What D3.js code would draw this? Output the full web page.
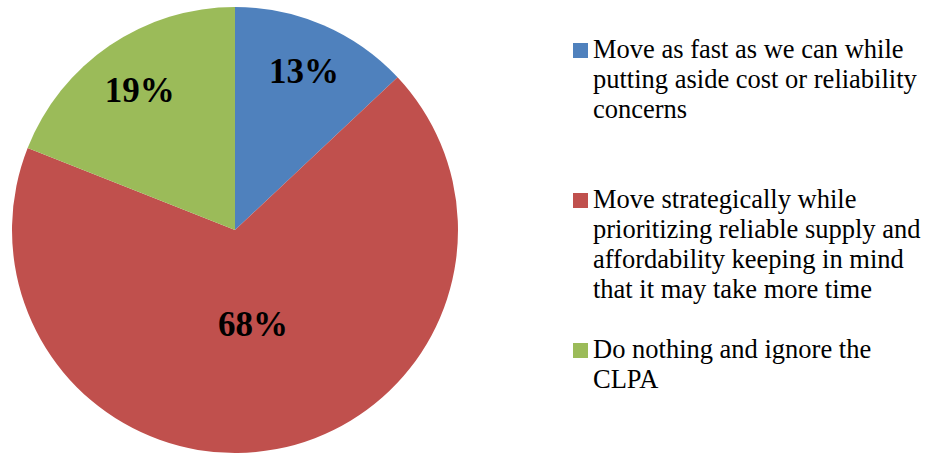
<!DOCTYPE html>
<html>
<head>
<meta charset="utf-8">
<script src="https://cdn.jsdelivr.net/npm/d3@7"></script>
<style>
  html, body { margin: 0; padding: 0; background: #fff; }
  svg { display: block; }
</style>
</head>
<body>
<script>
// Survey responses: how to approach the CLPA
const categories = [
  "Move as fast as we can while putting aside cost or reliability concerns",
  "Move strategically while prioritizing reliable supply and affordability keeping in mind that it may take more time",
  "Do nothing and ignore the CLPA"
];
const legendLines = [
  ["Move as fast as we can while", "putting aside cost or reliability", "concerns"],
  ["Move strategically while", "prioritizing reliable supply and", "affordability keeping in mind", "that it may take more time"],
  ["Do nothing and ignore the", "CLPA"]
];
const shares = [13, 68, 19];
const colors = ["#4F81BD", "#C0504D", "#9BBB59"];

const FONT = '"Liberation Serif"';
const W = 925, H = 454;
const cx = 235, cy = 230, R = 223;
// how far out (fraction of radius) each percentage label sits
const labelFrac = [0.78, 0.43, 0.76];

const svg = d3.select("body").append("svg")
  .attr("width", W).attr("height", H);

const data = shares.map((v, i) => ({ name: categories[i], value: v, i }));

const pie = d3.pie().sort(null).value(d => d.value).startAngle(0).endAngle(2 * Math.PI);
const arcs = pie(data);
const arc = d3.arc().innerRadius(0).outerRadius(R);

const g = svg.append("g").attr("transform", `translate(${cx},${cy})`);

g.selectAll("path.slice")
  .data(arcs)
  .join("path")
  .attr("class", "slice")
  .attr("d", arc)
  .attr("fill", d => colors[d.data.i]);

g.selectAll("text.pct")
  .data(arcs)
  .join("text")
  .attr("class", "pct")
  .attr("transform", d => {
    const r = R * labelFrac[d.data.i];
    const a = (d.startAngle + d.endAngle) / 2;
    return `translate(${r * Math.sin(a)},${-r * Math.cos(a)})`;
  })
  .attr("text-anchor", "middle")
  .attr("dy", "0.35em")
  .attr("font-family", FONT)
  .attr("font-weight", "bold")
  .attr("font-size", 35)
  .attr("fill", "#000")
  .text(d => d.data.value + "%");

// Legend
const legendX = 573, sq = 15, textX = 593, lineH = 30;
const groupBaselines = [58, 208, 358];
const legend = svg.append("g");

legendLines.forEach((lines, i) => {
  const b = groupBaselines[i];
  legend.append("rect")
    .attr("x", legendX).attr("y", b - sq)
    .attr("width", sq).attr("height", sq)
    .attr("fill", colors[i]);
  const t = legend.append("text")
    .attr("x", textX).attr("y", b)
    .attr("font-family", FONT)
    .attr("font-size", 26.5)
    .attr("fill", "#000");
  lines.forEach((ln, k) => {
    t.append("tspan").attr("x", textX).attr("y", b + k * lineH).text(ln);
  });
});
</script>
</body>
</html>
